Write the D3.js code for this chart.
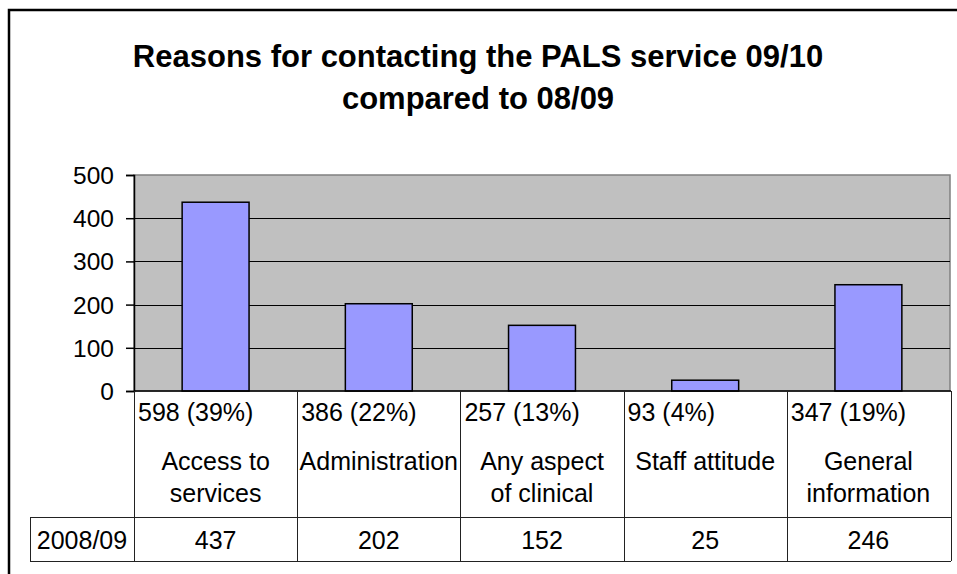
<!DOCTYPE html>
<html>
<head>
<meta charset="utf-8">
<script src="https://cdn.jsdelivr.net/npm/d3@7"></script>
<style>
  html, body { margin: 0; padding: 0; background: #fff; }
  svg { display: block; font-family: "Liberation Sans", Arial, sans-serif; }
</style>
</head>
<body>
<svg id="chart" width="957" height="574"></svg>
<script>
// ---- data ----
const categories = ["Access to services", "Administration", "Any aspect of clinical", "Staff attitude", "General information"];
const categoryLines = [["Access to", "services"], ["Administration"], ["Any aspect", "of clinical"], ["Staff attitude"], ["General", "information"]];
const labels0910 = ["598 (39%)", "386 (22%)", "257 (13%)", "93 (4%)", "347 (19%)"];
const values0809 = [437, 202, 152, 25, 246];
const seriesName = "2008/09";
const yTicks = [0, 100, 200, 300, 400, 500];
const titleLines = ["Reasons for contacting the PALS service 09/10", "compared to 08/09"];

// ---- layout ----
const svg = d3.select("#chart");
const plot = { left: 134, right: 950, top: 175, bottom: 391 };
const table = { catBottom: 517, dataBottom: 561, headerLeft: 30, right: 951 };
const fs = 25;

// outer frame
svg.append("rect").attr("x", 9).attr("y", 10).attr("width", 1000).attr("height", 1000)
  .attr("fill", "none").attr("stroke", "#000").attr("stroke-width", 2.5);

// title
svg.append("g").selectAll("text").data(titleLines).join("text")
  .attr("x", 478).attr("y", (d, i) => 67 + i * 42)
  .attr("text-anchor", "middle").attr("font-weight", "bold").attr("font-size", 31)
  .attr("fill", "#000").text(d => d);

const x = d3.scaleBand().domain(categories).range([plot.left, plot.right])
  .paddingInner(0.59).paddingOuter(0.295);
const xCell = d3.scaleBand().domain(categories).range([plot.left, plot.right]).padding(0);
const y = d3.scaleLinear().domain([0, 500]).range([plot.bottom, plot.top]);

// plot background
svg.append("rect").attr("x", plot.left).attr("y", plot.top)
  .attr("width", plot.right - plot.left).attr("height", plot.bottom - plot.top)
  .attr("fill", "#C0C0C0").attr("stroke", "#808080").attr("stroke-width", 1.5);

// gridlines
svg.append("g").selectAll("line").data(yTicks.filter(t => t > 0 && t < 500)).join("line")
  .attr("x1", plot.left).attr("x2", plot.right)
  .attr("y1", d => Math.round(y(d)) + 0.5).attr("y2", d => Math.round(y(d)) + 0.5)
  .attr("stroke", "#000").attr("stroke-width", 1);

// bars
svg.append("g").selectAll("rect").data(categories).join("rect")
  .attr("x", d => x(d)).attr("width", x.bandwidth())
  .attr("y", (d, i) => y(values0809[i])).attr("height", (d, i) => y(0) - y(values0809[i]))
  .attr("fill", "#9999FF").attr("stroke", "#000").attr("stroke-width", 1.5);

// y axis
const yAxis = d3.axisLeft(y).tickValues(yTicks).tickSize(8).tickPadding(12);
const ga = svg.append("g").attr("transform", `translate(${plot.left},0)`).call(yAxis);
ga.select(".domain").attr("stroke", "#000").attr("stroke-width", 1.5);
ga.selectAll(".tick line").attr("stroke", "#000").attr("stroke-width", 1.5);
ga.selectAll(".tick text").attr("font-size", 24.5).attr("font-family", "Liberation Sans, Arial, sans-serif")
  .attr("fill", "#000").attr("dy", "0.35em");

// data table
const tg = svg.append("g");
const lineC = "#222";
tg.append("line").attr("x1", plot.left).attr("x2", table.right)
  .attr("y1", plot.bottom).attr("y2", plot.bottom).attr("stroke", "#000").attr("stroke-width", 1.5);
[table.catBottom, table.dataBottom].forEach(yy => tg.append("line").attr("x1", table.headerLeft).attr("x2", table.right)
  .attr("y1", yy + 0.5).attr("y2", yy + 0.5).attr("stroke", lineC).attr("stroke-width", 1));
const bounds = categories.map(c => xCell(c)).concat([table.right]);
tg.selectAll("line.v").data(bounds).join("line").attr("class", "v")
  .attr("x1", d => Math.round(d) + 0.5).attr("x2", d => Math.round(d) + 0.5)
  .attr("y1", plot.bottom).attr("y2", table.dataBottom)
  .attr("stroke", lineC).attr("stroke-width", 1);
tg.append("line").attr("x1", table.headerLeft + 0.5).attr("x2", table.headerLeft + 0.5)
  .attr("y1", table.catBottom).attr("y2", table.dataBottom).attr("stroke", lineC).attr("stroke-width", 1);

// 09/10 labels
tg.selectAll("text.lab").data(labels0910).join("text").attr("class", "lab")
  .attr("x", (d, i) => xCell(categories[i]) + 4).attr("y", 421)
  .attr("font-size", fs).attr("fill", "#000").text(d => d);

// category names
categoryLines.forEach((lines, i) => {
  tg.append("g").selectAll("text").data(lines).join("text")
    .attr("x", xCell(categories[i]) + xCell.bandwidth() / 2)
    .attr("y", (d, j) => 470 + j * 32)
    .attr("text-anchor", "middle").attr("font-size", fs).attr("fill", "#000").text(d => d);
});

// series row
tg.append("text").attr("x", (table.headerLeft + plot.left) / 2).attr("y", 549)
  .attr("text-anchor", "middle").attr("font-size", fs).attr("fill", "#000").text(seriesName);
tg.selectAll("text.val").data(values0809).join("text").attr("class", "val")
  .attr("x", (d, i) => xCell(categories[i]) + xCell.bandwidth() / 2).attr("y", 549)
  .attr("text-anchor", "middle").attr("font-size", fs).attr("fill", "#000").text(d => d);
</script>
</body>
</html>
